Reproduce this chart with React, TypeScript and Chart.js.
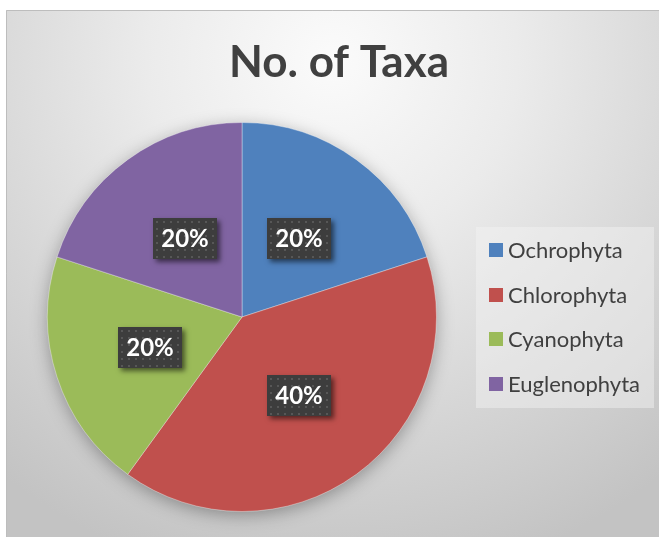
import React, { useEffect, useRef } from "react";
import { Chart, registerables } from "chart.js";

Chart.register(...registerables);

const TITLE = "No. of Taxa";
const categories = ["Ochrophyta", "Chlorophyta", "Cyanophyta", "Euglenophyta"];
const taxaCounts = [1, 2, 1, 1];
const sliceColors = ["#4F81BD", "#C0504D", "#9BBB59", "#8064A2"];

const W = 653;
const H = 527;

function makeDotPattern(ctx: CanvasRenderingContext2D) {
  const c = document.createElement("canvas");
  c.width = 7;
  c.height = 7;
  const p = c.getContext("2d")!;
  p.fillStyle = "#3d3d3d";
  p.fillRect(0, 0, 7, 7);
  p.fillStyle = "#575757";
  p.fillRect(3, 3, 2, 2);
  return ctx.createPattern(c, "repeat");
}

const backgroundPlugin = {
  id: "bgPlugin",
  beforeDraw(chart: any) {
    const ctx = chart.ctx as CanvasRenderingContext2D;
    ctx.save();
    const g = ctx.createRadialGradient(326, 50, 0, 326, 50, 530);
    g.addColorStop(0, "#fbfbfb");
    g.addColorStop(0.35, "#ebebeb");
    g.addColorStop(1, "#c3c3c3");
    ctx.fillStyle = g;
    ctx.fillRect(0, 0, chart.width, chart.height);
    ctx.strokeStyle = "#bdbdbd";
    ctx.lineWidth = 1;
    ctx.beginPath();
    ctx.moveTo(0.5, chart.height);
    ctx.lineTo(0.5, 0.5);
    ctx.lineTo(chart.width, 0.5);
    ctx.stroke();
    // title
    ctx.fillStyle = "#404040";
    ctx.font = "bold 44px Lato";
    ctx.textAlign = "center";
    ctx.textBaseline = "alphabetic";
    ctx.fillText(TITLE, 333, 67);
    ctx.restore();
  },
};

const pieShadowPlugin = {
  id: "pieShadow",
  beforeDatasetsDraw(chart: any) {
    const meta = chart.getDatasetMeta(0);
    const arc = meta.data[0];
    if (!arc) return;
    const ctx = chart.ctx as CanvasRenderingContext2D;
    ctx.save();
    ctx.shadowColor = "rgba(0,0,0,0.35)";
    ctx.shadowBlur = 18;
    ctx.shadowOffsetY = 4;
    ctx.fillStyle = "#888888";
    ctx.beginPath();
    ctx.arc(arc.x, arc.y, arc.outerRadius - 1, 0, Math.PI * 2);
    ctx.fill();
    ctx.restore();
  },
};

const dataLabelPlugin = {
  id: "dataLabels",
  afterDatasetsDraw(chart: any) {
    const ctx = chart.ctx as CanvasRenderingContext2D;
    const ds = chart.data.datasets[0].data as number[];
    const total = ds.reduce((a, b) => a + b, 0);
    const meta = chart.getDatasetMeta(0);
    const pattern = makeDotPattern(ctx);
    meta.data.forEach((el: any, i: number) => {
      const pos = el.tooltipPosition();
      const bw = 64;
      const bh = 41;
      const x = Math.round(pos.x - bw / 2);
      const y = Math.round(pos.y - bh / 2);
      ctx.save();
      ctx.shadowColor = "rgba(0,0,0,0.55)";
      ctx.shadowBlur = 5;
      ctx.shadowOffsetX = 3;
      ctx.shadowOffsetY = 3;
      ctx.fillStyle = "#3d3d3d";
      ctx.fillRect(x, y, bw, bh);
      ctx.restore();
      ctx.save();
      ctx.fillStyle = pattern || "#3d3d3d";
      ctx.translate(x, y);
      ctx.fillRect(0, 0, bw, bh);
      ctx.restore();
      ctx.save();
      ctx.fillStyle = "#ffffff";
      ctx.font = "bold 24px Lato";
      ctx.textAlign = "center";
      ctx.textBaseline = "middle";
      const pct = Math.round((ds[i] / total) * 100) + "%";
      ctx.fillText(pct, x + bw / 2, y + bh / 2 + 1);
      ctx.restore();
    });
  },
};

const legendPlugin = {
  id: "customLegend",
  afterDraw(chart: any) {
    const ctx = chart.ctx as CanvasRenderingContext2D;
    const labels = chart.data.labels as string[];
    const colors = chart.data.datasets[0].backgroundColor as string[];
    ctx.save();
    ctx.fillStyle = "rgba(245,245,245,0.45)";
    ctx.fillRect(470, 217, 178, 181);
    ctx.font = "22px Lato";
    ctx.textBaseline = "middle";
    ctx.textAlign = "left";
    labels.forEach((lab, i) => {
      const cy = 240 + i * 44.7;
      ctx.fillStyle = colors[i];
      ctx.fillRect(483, Math.round(cy - 7), 14, 14);
      ctx.fillStyle = "#404040";
      ctx.fillText(lab, 502, cy + 1);
    });
    ctx.restore();
  },
};

export default function App() {
  const ref = useRef<HTMLCanvasElement | null>(null);
  useEffect(() => {
    if (!ref.current) return;
    const chart = new Chart(ref.current, {
      type: "pie",
      data: {
        labels: categories,
        datasets: [
          {
            data: taxaCounts,
            backgroundColor: sliceColors,
            borderColor: "rgba(255,255,255,0.35)",
            borderWidth: 1,
          },
        ],
      },
      options: {
        responsive: false,
        animation: false,
        devicePixelRatio: 1,
        layout: { padding: { left: 41, top: 112, right: 222, bottom: 25 } },
        plugins: {
          legend: { display: false },
          title: { display: false },
          tooltip: { enabled: false },
        },
      },
      plugins: [backgroundPlugin, pieShadowPlugin, dataLabelPlugin, legendPlugin],
    });
    return () => chart.destroy();
  }, []);
  return (
    <div style={{ position: "absolute", left: 6, top: 10, width: W, height: H }}>
      <canvas ref={ref} width={W} height={H} style={{ display: "block" }} />
    </div>
  );
}
